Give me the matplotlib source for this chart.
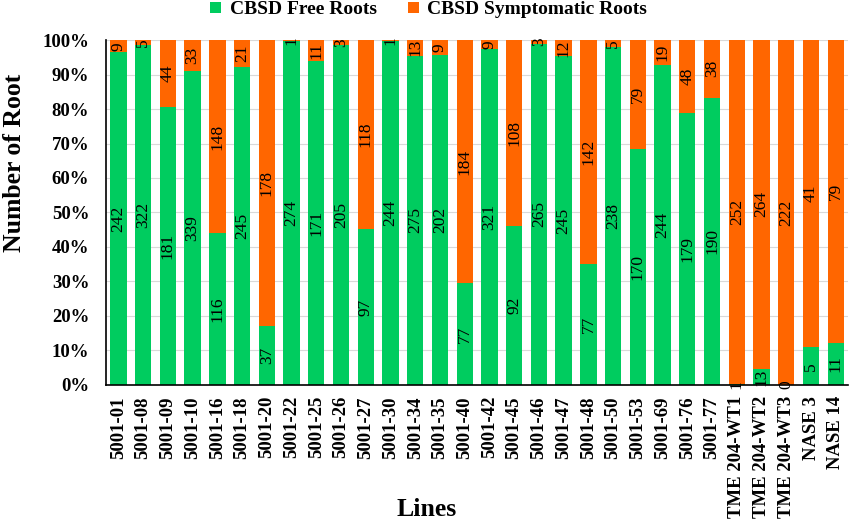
import numpy as np
import matplotlib
matplotlib.use("Agg")
import matplotlib.pyplot as plt
from matplotlib.ticker import PercentFormatter

lines = ["5001-01", "5001-08", "5001-09", "5001-10", "5001-16", "5001-18",
         "5001-20", "5001-22", "5001-25", "5001-26", "5001-27", "5001-30",
         "5001-34", "5001-35", "5001-40", "5001-42", "5001-45", "5001-46",
         "5001-47", "5001-48", "5001-50", "5001-53", "5001-69", "5001-76",
         "5001-77", "TME 204-WT1", "TME 204-WT2", "TME 204-WT3", "NASE 3",
         "NASE 14"]
free_roots = [242, 322, 181, 339, 116, 245, 37, 274, 171, 205, 97, 244, 275,
              202, 77, 321, 92, 265, 245, 77, 238, 170, 244, 179, 190, 1, 13,
              0, 5, 11]
symptomatic_roots = [9, 5, 44, 33, 148, 21, 178, 1, 11, 3, 118, 1, 13, 9, 184,
                     9, 108, 3, 12, 142, 5, 79, 19, 48, 38, 252, 264, 222, 41,
                     79]

green = "#00CC5F"
orange = "#FF6600"
serif = ["Liberation Serif", "DejaVu Serif"]
plt.rcParams["font.family"] = serif

free = np.array(free_roots, dtype=float)
symp = np.array(symptomatic_roots, dtype=float)
total = free + symp
pf = free / total * 100
ps = symp / total * 100
x = np.arange(len(lines))

fig = plt.figure(figsize=(8.51, 5.23), dpi=100)
ax = fig.add_axes([0.1246, 0.2639, 0.8720, 0.6596])

ax.bar(x, pf, width=0.66, color=green, label="CBSD Free Roots", zorder=2)
ax.bar(x, ps, width=0.66, bottom=pf, color=orange,
       label="CBSD Symptomatic Roots", zorder=2)

for i in range(len(x)):
    ax.text(x[i], pf[i] / 2, str(free_roots[i]), rotation=90, ha="center",
            va="center", fontsize=12.5, color="black", zorder=3)
    ax.text(x[i], pf[i] + ps[i] / 2, str(symptomatic_roots[i]), rotation=90,
            ha="center", va="center", fontsize=12.5, color="black", zorder=3)

ax.set_xlim(-0.5, len(lines) - 0.5)
ax.set_ylim(0, 100)
ax.set_yticks(np.arange(0, 101, 10))
ax.yaxis.set_major_formatter(PercentFormatter(decimals=0))
ax.grid(axis="y", color="#D9D9D9", linewidth=0.8, zorder=0)
ax.set_axisbelow(True)

ax.set_xticks(x)
ax.set_xticklabels(lines, rotation=90, fontsize=13.5, fontweight="bold")
for lbl in ax.get_yticklabels():
    lbl.set_fontsize(13.5)
    lbl.set_fontweight("bold")
ax.tick_params(axis="x", length=0, pad=8)
ax.tick_params(axis="y", length=0, pad=12)

for side in ["top", "right"]:
    ax.spines[side].set_visible(False)
ax.spines["left"].set_color("black")
ax.spines["bottom"].set_color("black")
ax.spines["left"].set_linewidth(1.2)
ax.spines["bottom"].set_linewidth(1.2)

# axis titles sit where the original put them (y title is off-centre)
fig.text(15 / 851, 1 - 163 / 523, "Number of Root", rotation=90,
         ha="center", va="center", fontsize=18.5, fontweight="bold")
fig.text(427 / 851, 1 - 510 / 523, "Lines", ha="center", va="center",
         fontsize=18.5, fontweight="bold")

ax.legend(loc="center", bbox_to_anchor=(0.435, 1.087), ncol=2,
          frameon=False, prop={"family": serif, "weight": "bold", "size": 14},
          handlelength=0.55, handleheight=0.55, handletextpad=0.45,
          columnspacing=1.6, borderaxespad=0)

fig.savefig("out.png", dpi=100)
